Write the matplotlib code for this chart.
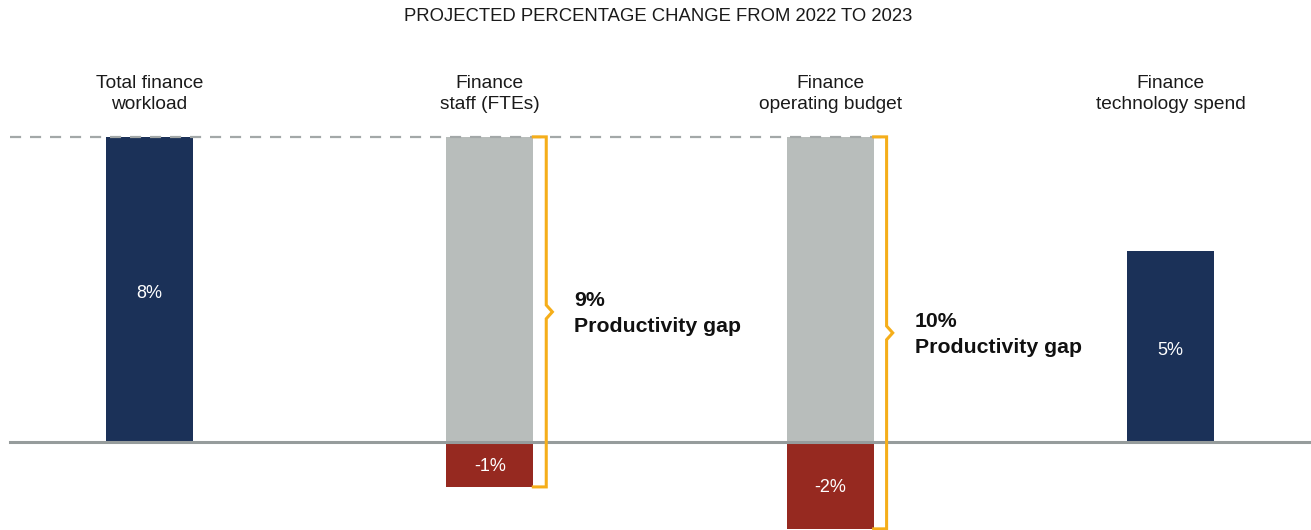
import matplotlib.pyplot as plt

plt.rcParams['font.family'] = ['Liberation Sans', 'DejaVu Sans']

# data
categories = ['Total finance\nworkload', 'Finance\nstaff (FTEs)',
              'Finance\noperating budget', 'Finance\ntechnology spend']
positive = [8, 8, 8, 5]          # bar tops (workload level for gray bars)
negative = [0, -1.18, -2.28, 0]  # drawn depth of the decline
labels = ['8%', None, None, '5%']
neg_labels = [None, '-1%', '-2%', None]
gap_idx = [1, 2]
gap_labels = ['9%', '10%']

navy = '#1b3158'
gray = '#b8bdbb'
red = '#962920'
orange = '#f5ae1a'

fig = plt.figure(figsize=(13.11, 5.30), dpi=100)
ax = fig.add_axes([0, 0, 1, 1])
ax.set_xlim(-0.439, 3.413)
ax.set_ylim(-2.31, 11.59)
ax.axis('off')

w = 0.256
x = list(range(len(categories)))
cols = [navy, gray, gray, navy]
ax.bar(x, positive, width=w, color=cols, zorder=2)
ax.bar(x, negative, width=w, color=red, zorder=2)

# reference lines
ax.plot([-0.41, 2.17], [8, 8], color='#a3a8a8', lw=1.6, ls=(0, (5, 4)), zorder=3)
ax.plot([-0.41, 3.413], [0, 0], color='#969c9c', lw=2.2, zorder=4)

for i in x:
    ax.text(i, 9.13, categories[i], ha='center', va='center', fontsize=13.8,
            color='#1a1a1a', linespacing=1.32)
    if labels[i]:
        ax.text(i, positive[i] / 2 - 0.1, labels[i], ha='center', va='center',
                fontsize=13, color='white')
    if neg_labels[i]:
        ax.text(i, negative[i] / 2 - 0.05, neg_labels[i], ha='center', va='center',
                fontsize=13, color='white', zorder=5)

# productivity gap brackets
for i, g in zip(gap_idx, gap_labels):
    x0 = i + w / 2
    x1 = x0 + 0.038
    top, bot = positive[i], negative[i]
    mid = (top + bot) / 2
    d = 0.18
    bx = [x0, x1, x1, x1 + 0.018, x1, x1, x0]
    by = [top, top, mid + d, mid, mid - d, bot, bot]
    ax.plot(bx, by, color=orange, lw=2.2, zorder=5, solid_joinstyle='miter')
    ax.text(x1 + 0.083, mid - 0.05, g + '\nProductivity gap', ha='left',
            va='center', fontsize=15.3, fontweight='bold', color='#111111',
            linespacing=1.45)

fig.text(0.502, 0.968, 'PROJECTED PERCENTAGE CHANGE FROM 2022 TO 2023',
         ha='center', va='center', fontsize=13.3, color='#1a1a1a')

fig.savefig('out.png', dpi=100)
